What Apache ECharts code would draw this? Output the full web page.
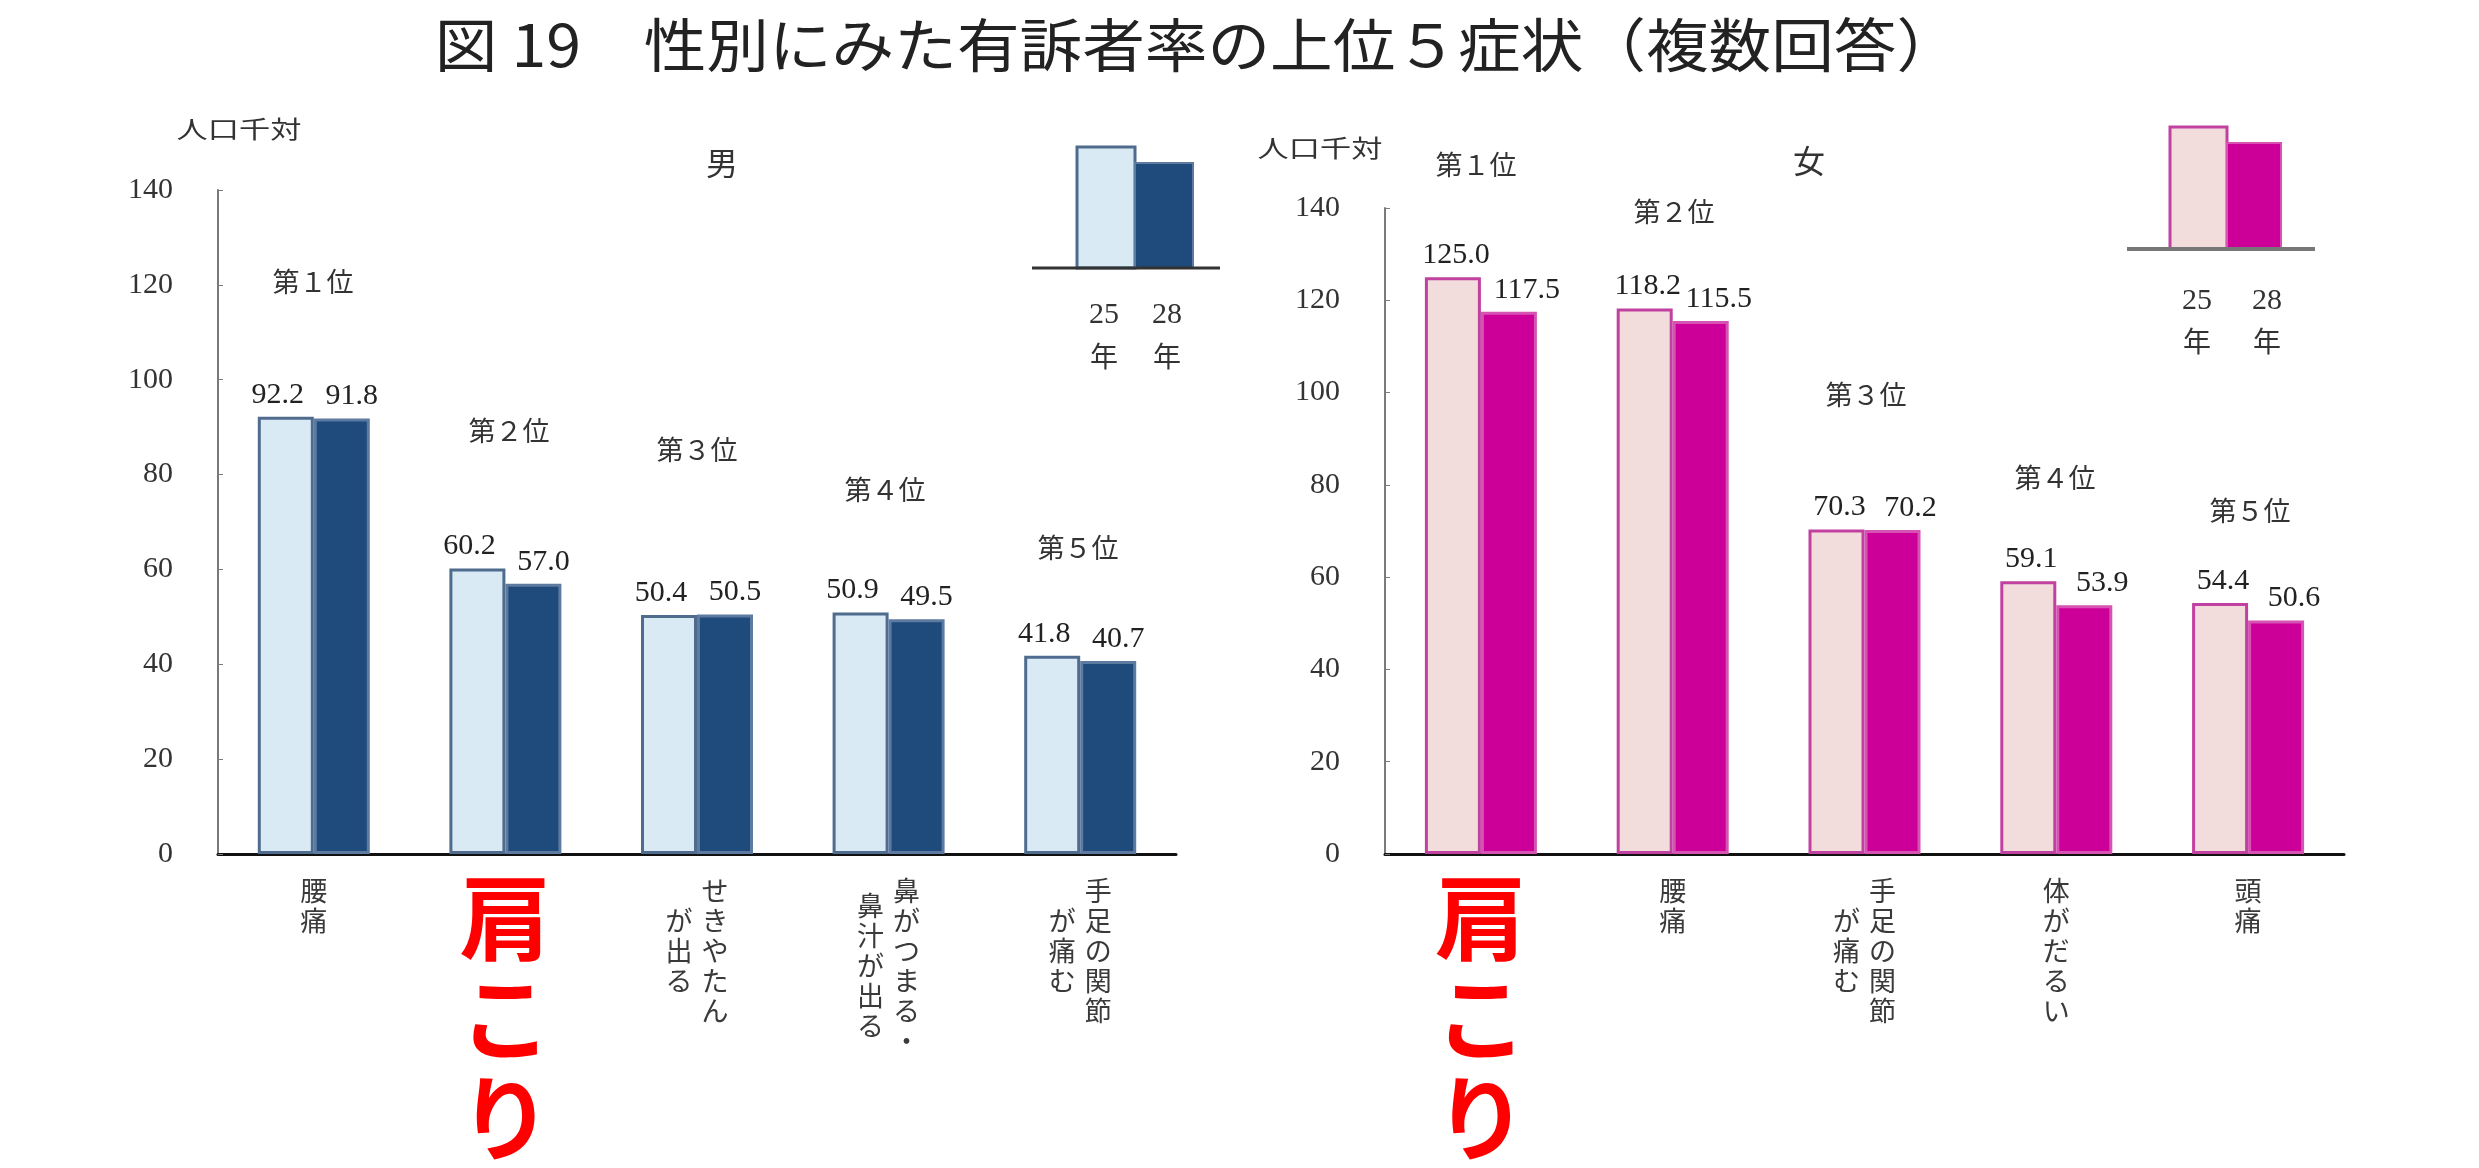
<!DOCTYPE html>
<html><head><meta charset="utf-8">
<script src="https://cdn.jsdelivr.net/npm/echarts/dist/echarts.min.js"></script>
<style>html,body{margin:0;padding:0;background:#fff}#c{width:2479px;height:1168px}</style>
</head><body><div id="c"></div>
<script>
// ---- data ----
const titleText = '図 19　性別にみた有訴者率の上位５症状（複数回答）';
const yTicks = [0, 20, 40, 60, 80, 100, 120, 140];
const maleCategories = ['腰痛', '肩こり', 'せきやたん\nが出る', '鼻がつまる・\n鼻汁が出る', '手足の関節\nが痛む'];
const femaleCategories = ['肩こり', '腰痛', '手足の関節\nが痛む', '体がだるい', '頭痛'];
const maleH25 = [92.2, 60.2, 50.4, 50.9, 41.8];
const maleH28 = [91.8, 57.0, 50.5, 49.5, 40.7];
const femaleH25 = [125.0, 118.2, 70.3, 59.1, 54.4];
const femaleH28 = [117.5, 115.5, 70.2, 53.9, 50.6];
const rankLabels = ['第１位', '第２位', '第３位', '第４位', '第５位'];
const yearLabels = ['25', '28'];
const unitLabel = '人口千対';

// ---- styles ----
const CJK = '"Noto Sans CJK JP", sans-serif';
const SERIF = '"Liberation Serif", "DejaVu Serif", serif';
const male = {light: '#d9eaf4', dark: '#1f4a7c', lightBorder: '#4f6c8e', darkBorder: '#5d7aa0'};
const female = {light: '#f2dcdc', dark: '#cc0099', lightBorder: '#c0419f', darkBorder: '#d653b4'};

function tate(value) {
  if (value === '肩こり') {
    return value.split('').map(ch => '{big|' + ch + '}').join('\n');
  }
  const cols = value.split('\n');
  const N = Math.max(...cols.map(c => c.length));
  const rows = 2 * N + 1;
  const grid = [];
  for (let h = 0; h < rows; h++) grid.push(cols.map(() => '　'));
  cols.forEach((col, ci) => {
    const chars = Array.from(col);
    const start = 1 + (N - chars.length);
    chars.forEach((ch, k) => { grid[start + 2 * k][ci] = ch; });
  });
  return grid.map(r => r.slice().reverse().map(ch => '{c|' + ch + '}').join('')).join('\n');
}

const catRich = {
  c: {fontSize: 27, width: 36, align: 'center', lineHeight: 15, fontFamily: CJK, color: '#3a3a3a'},
  big: {fontSize: 92, lineHeight: 100, fontWeight: 'bold', fontFamily: CJK, color: '#ff0000', align: 'center'}
};

function xAxisCfg(gridIndex, data) {
  return {
    type: 'category', gridIndex, data,
    axisLine: {lineStyle: {color: '#111', width: 3}},
    axisTick: {show: false},
    axisLabel: {interval: 0, hideOverlap: false, margin: 14, lineHeight: 15, formatter: tate, rich: catRich, verticalAlign: 'top'}
  };
}
function yAxisCfg(gridIndex) {
  return {
    type: 'value', gridIndex, min: yTicks[0], max: yTicks[yTicks.length - 1], interval: yTicks[1] - yTicks[0],
    axisLine: {show: true, lineStyle: {color: '#7a7a7a', width: 2}},
    axisTick: {show: true, inside: true, length: 5, lineStyle: {color: '#7a7a7a', width: 1}},
    splitLine: {show: false},
    axisLabel: {margin: 45, fontFamily: SERIF, fontSize: 30, color: '#333'}
  };
}
function barSeries(idx, data, fill, border, offX) {
  return {
    type: 'bar', xAxisIndex: idx, yAxisIndex: idx, data,
    barWidth: 56, barGap: '0%',
    itemStyle: {color: fill, borderColor: border, borderWidth: 3},
    label: {show: true, position: 'top', distance: 7, offset: [offX, 0],
      fontFamily: SERIF, fontSize: 30, color: '#222', formatter: p => p.value.toFixed(1)},
    emphasis: {disabled: true}, animation: false
  };
}

function txt(x, y, text, size, font, extra) {
  const el = {type: 'text', x, y, style: {text, fontSize: size, fontFamily: font || CJK, fill: '#333', align: 'center', verticalAlign: 'middle'}};
  if (extra) {
    if (extra.style) Object.assign(el.style, extra.style);
    if (extra.scaleX) el.scaleX = extra.scaleX;
  }
  return el;
}

const graphics = [
  txt(1197, 45, titleText, 58, CJK, {style: {fill: '#222'}, scaleX: 1.08}),
  txt(239, 129, unitLabel, 24, CJK, {scaleX: 1.3}),
  txt(1320, 148, unitLabel, 24, CJK, {scaleX: 1.3}),
  txt(722, 163, '男', 32),
  txt(1809, 161, '女', 32),
  // left legend
  {type: 'rect', shape: {x: 1077, y: 147, width: 58, height: 121}, style: {fill: male.light, stroke: male.lightBorder, lineWidth: 3}},
  {type: 'rect', shape: {x: 1135, y: 163, width: 58, height: 105}, style: {fill: male.dark, stroke: male.darkBorder, lineWidth: 2}},
  {type: 'line', shape: {x1: 1032, y1: 268, x2: 1220, y2: 268}, style: {stroke: '#333', lineWidth: 3}},
  txt(1104, 315, yearLabels[0], 30, SERIF), txt(1104, 356, '年', 28),
  txt(1167, 315, yearLabels[1], 30, SERIF), txt(1167, 356, '年', 28),
  // right legend
  {type: 'rect', shape: {x: 2170, y: 127, width: 57, height: 122}, style: {fill: female.light, stroke: female.lightBorder, lineWidth: 3}},
  {type: 'rect', shape: {x: 2227, y: 143, width: 54, height: 106}, style: {fill: female.dark, stroke: female.darkBorder, lineWidth: 2}},
  {type: 'line', shape: {x1: 2127, y1: 249, x2: 2315, y2: 249}, style: {stroke: '#777', lineWidth: 4}},
  txt(2197, 301, yearLabels[0], 30, SERIF), txt(2197, 341, '年', 28),
  txt(2267, 301, yearLabels[1], 30, SERIF), txt(2267, 341, '年', 28)
];
const maleRankPos = [[313, 282], [509, 431], [697, 450], [885, 490], [1078, 548]];
const femaleRankPos = [[1476, 165], [1674, 212], [1866, 395], [2055, 478], [2250, 511]];
rankLabels.forEach((r, i) => {
  graphics.push(txt(maleRankPos[i][0], maleRankPos[i][1], r, 27));
  graphics.push(txt(femaleRankPos[i][0], femaleRankPos[i][1], r, 27));
});

const chart = echarts.init(document.getElementById('c'), null, {renderer: 'canvas'});
chart.setOption({
  backgroundColor: '#fff',
  animation: false,
  grid: [
    {left: 218, top: 190, width: 958, height: 669},
    {left: 1385, top: 208, width: 959, height: 648}
  ],
  xAxis: [xAxisCfg(0, maleCategories), xAxisCfg(1, femaleCategories)],
  yAxis: [yAxisCfg(0), yAxisCfg(1)],
  series: [
    barSeries(0, maleH25, male.light, male.lightBorder, -8),
    barSeries(0, maleH28, male.dark, male.darkBorder, 10),
    barSeries(1, femaleH25, female.light, female.lightBorder, 3),
    barSeries(1, femaleH28, female.dark, female.darkBorder, 18)
  ],
  graphic: graphics
});
</script>
</body></html>
